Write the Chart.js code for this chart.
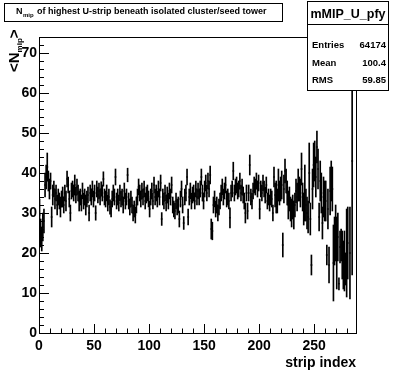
<!DOCTYPE html>
<html>
<head>
<meta charset="utf-8">
<script src="https://cdn.jsdelivr.net/npm/chart.js@4.4.0/dist/chart.umd.min.js"></script>
<style>
body { margin: 0; background: #fff; }
canvas { display: block; }
</style>
</head>
<body>
<canvas id="chart" width="396" height="372"></canvas>
<script>
// profile: mean N_mip per strip bin (0..287)
const means = [
  29.5, 25, 23.5, 26.5, 28, 37, 39, 41.5, 38, 36,
  38, 29, 34.5, 36, 33.5, 35, 32, 34, 33, 31.5,
  33.5, 34, 32, 35, 33, 38.5, 37, 33.5, 30, 35.5,
  36, 35, 37, 34.5, 36.5, 35, 33, 34, 32.5, 35.5,
  33, 34, 32, 33.5, 34.5, 30, 35, 34, 36, 33.5,
  35, 30, 36, 34.5, 35.5, 34, 36, 35, 38.5, 34,
  33.5, 35, 32.5, 34, 31.5, 31, 33.5, 35, 34, 39,
  33, 34, 32.5, 35, 33.5, 34, 32, 35.5, 33, 34,
  39.5, 33, 31.5, 33.5, 32, 30, 31, 29.5, 32, 34,
  36.5, 35, 33.5, 35.5, 34, 36, 33, 34.5, 35, 33.5,
  31, 34, 35.5, 33, 37, 34, 35, 33.5, 36, 34,
  37.5, 28.5, 34, 33, 35, 32.5, 34.5, 33, 35.5, 34,
  37, 32, 31, 30.5, 33, 31.5, 32, 28.5, 33.5, 36,
  32, 27.5, 34, 35, 39, 29, 34, 35.5, 33, 34.5,
  35, 33, 36, 34, 35.5, 34, 36, 39, 35, 33,
  36, 37.5, 35, 38, 36, 39.5, 26, 25.5, 32, 33.5,
  31, 32, 30, 31.5, 33, 35, 36.5, 34, 35.5, 37,
  33.5, 34, 33, 28.8, 35, 36, 40.5, 35, 36.5, 37,
  35.5, 36, 38, 35, 36.5, 34.5, 33, 30, 35, 30.5,
  35, 42, 34, 33, 35.5, 37, 36.5, 38, 36, 37.5,
  31, 36, 35, 37.5, 36, 34.5, 37, 33, 34, 32.5,
  34, 33.5, 30, 39, 34.5, 34, 33, 37, 35, 36,
  37, 22, 36, 40.5, 38, 35, 32, 33.5, 31, 30,
  31.5, 29.5, 32, 35.5, 34, 37, 36, 35, 41, 34,
  31, 35, 32, 30, 29, 40, 28.5, 17, 36, 42,
  43, 39, 46.5, 41, 29, 38, 35, 27.5, 34, 33,
  33, 19.5, 31, 17, 35.5, 38, 36, 17.5, 23, 25,
  20, 24, 12.3, 21.5, 22, 19.5, 17, 18, 16, 20,
  22.5, null, 20, null, 43, null, null, null
];

const errors = [
  4, 3.5, 3, 3.5, 3, 3, 3, 3.5, 2.5, 2.5,
  2, 2.5, 2.5, 2, 2.5, 2, 2.5, 2, 2, 2.5,
  2, 2.5, 2, 2, 2.5, 2, 2, 2, 2, 2,
  2, 2, 2.5, 2, 2, 2, 2.5, 2, 2, 2,
  2, 2, 2.5, 2, 2, 2, 2, 2, 2, 2,
  2, 1.8, 2, 2, 2, 2, 1.8, 2, 1.8, 2,
  2, 2, 2, 2, 1.8, 2, 2, 2, 2, 2,
  2, 2, 2, 2, 2, 2, 2, 2, 2, 2,
  1.7, 2, 2, 2, 2, 2, 2, 2, 2, 2,
  2, 2, 2, 2, 2, 2, 2, 2, 2, 2,
  2, 2, 2, 2, 2, 2, 2, 2, 2, 2,
  2, 1.6, 2, 2, 2, 2, 2, 2, 2, 2,
  2, 2, 2, 2, 2, 2, 2, 2, 2, 2,
  2, 1.6, 2, 2, 2, 2, 2, 2, 2, 2,
  2, 2, 2, 2, 2, 2, 2, 2, 2, 2,
  2, 2, 2, 2, 2, 2.2, 2.5, 2.2, 2, 2,
  2, 2, 2, 2, 2, 2, 2, 2, 2, 2,
  2, 2, 2, 2.5, 2, 2, 2.2, 2, 2, 2,
  2, 2, 2, 2, 2, 2, 2, 2.5, 2, 2,
  2, 2.5, 2, 2, 2, 2, 2, 2, 2, 2,
  2.5, 2, 2, 2, 2, 2, 2, 2, 2, 2,
  2, 2, 2, 2.5, 3, 4, 3, 4, 3, 3,
  3.5, 3, 3.5, 3, 3, 3, 3.5, 3, 3, 3.5,
  3, 3.5, 3, 3, 3.5, 4, 3, 3.5, 4, 3.5,
  4, 7, 4, 4, 4, 7.5, 4, 2.5, 5, 5.5,
  5, 5, 4, 5, 3.5, 5, 5, 4, 5, 5,
  5, 2.5, 5, 4.5, 6, 5, 5.5, 9.5, 6, 7,
  9, 6, 1.5, 4, 4, 6, 6, 7.5, 4, 11,
  9, null, 11.5, null, 28.5, null, null, null
];

const xTicks = [0, 50, 100, 150, 200, 250];
const yTicks = [0, 10, 20, 30, 40, 50, 60, 70];
const statsName = "mMIP_U_pfy";
const statsLabels = ["Entries", "Mean", "RMS"];
const statsValues = ["64174", "100.4", "59.85"];

const barData = [];
const markData = [];
for (let i = 0; i < means.length; i++) {
  if (means[i] === null) continue;
  barData.push({ x: i + 0.5, y: [means[i] - errors[i], means[i] + errors[i]] });
  markData.push({ x: i + 0.5, y: means[i] });
}

const bold = (s) => ({ family: "'Liberation Sans', Arial, sans-serif", size: s, weight: "bold" });

// ROOT style: frame, inward ticks, title box, stats box
const decor = {
  id: "decor",
  afterDatasetsDraw(chart) {
    const ctx = chart.ctx;
    const a = chart.chartArea;
    const xs = chart.scales.x, ys = chart.scales.y;
    ctx.save();
    ctx.strokeStyle = "#000";
    ctx.lineWidth = 1;
    ctx.beginPath();
    for (let v = 0; v <= 74; v += 2) {
      const py = Math.round(ys.getPixelForValue(v)) + 0.5;
      const len = v % 10 === 0 ? 10 : 5;
      ctx.moveTo(a.left, py);
      ctx.lineTo(a.left + len, py);
    }
    for (let v = 0; v <= 288; v += 10) {
      const px = Math.round(xs.getPixelForValue(v)) + 0.5;
      const len = v % 50 === 0 ? 9 : 4.5;
      ctx.moveTo(px, a.bottom);
      ctx.lineTo(px, a.bottom - len);
    }
    ctx.stroke();
    ctx.strokeRect(Math.round(a.left) + 0.5, Math.round(a.top) + 0.5,
      Math.round(a.right - a.left), Math.round(a.bottom - a.top));
    ctx.restore();
  },
  afterDraw(chart) {
    const ctx = chart.ctx;
    ctx.save();
    ctx.fillStyle = "#000";
    ctx.strokeStyle = "#000";
    ctx.lineWidth = 1;

    // title box
    ctx.fillStyle = "#fff";
    ctx.fillRect(4.5, 3.5, 278, 18);
    ctx.strokeRect(4.5, 3.5, 278, 18);
    ctx.fillStyle = "#000";
    ctx.textBaseline = "alphabetic";
    ctx.font = "bold 9px 'Liberation Sans', Arial, sans-serif";
    ctx.fillText("N", 16, 14);
    ctx.font = "bold 6px 'Liberation Sans', Arial, sans-serif";
    ctx.fillText("mip", 23, 17);
    ctx.font = "bold 9px 'Liberation Sans', Arial, sans-serif";
    ctx.fillText("of highest U-strip beneath isolated cluster/seed tower", 37, 14);

    // stats box
    ctx.fillStyle = "#fff";
    ctx.fillRect(307.5, 1.5, 81, 89);
    ctx.strokeRect(307.5, 1.5, 81, 89);
    ctx.beginPath();
    ctx.moveTo(307.5, 24.5);
    ctx.lineTo(388.5, 24.5);
    ctx.stroke();
    ctx.fillStyle = "#000";
    ctx.font = "bold 12.5px 'Liberation Sans', Arial, sans-serif";
    ctx.textAlign = "center";
    ctx.fillText(statsName, 348, 18);
    ctx.font = "bold 9.5px 'Liberation Sans', Arial, sans-serif";
    const rowY = [48, 65.5, 82.5];
    for (let i = 0; i < statsLabels.length; i++) {
      ctx.textAlign = "left";
      ctx.fillText(statsLabels[i], 312, rowY[i]);
      ctx.textAlign = "right";
      ctx.fillText(statsValues[i], 386, rowY[i]);
    }

    // y title <N_mip>
    ctx.translate(18.5, 72);
    ctx.rotate(-Math.PI / 2);
    ctx.textAlign = "left";
    ctx.font = "bold 15px 'Liberation Sans', Arial, sans-serif";
    let x = 0;
    ctx.fillText("<", x, 0); x += ctx.measureText("<").width;
    ctx.fillText("N", x, 0); x += ctx.measureText("N").width;
    ctx.font = "bold 8px 'Liberation Sans', Arial, sans-serif";
    ctx.fillText("mip", x, 3); x += ctx.measureText("mip").width;
    ctx.font = "bold 15px 'Liberation Sans', Arial, sans-serif";
    ctx.fillText(">", x, 0);
    ctx.restore();
  }
};

new Chart(document.getElementById("chart"), {
  type: "bar",
  data: {
    datasets: [
      {
        type: "bar",
        data: barData,
        backgroundColor: "#000",
        borderWidth: 0,
        barThickness: 1
      },
      {
        type: "scatter",
        data: markData,
        pointStyle: "line",
        pointRadius: 1,
        borderColor: "#000",
        borderWidth: 1
      }
    ]
  },
  options: {
    responsive: false,
    animation: false,
    layout: { padding: { top: 37, right: 40, left: 0, bottom: 0 } },
    plugins: { legend: { display: false }, tooltip: { enabled: false } },
    scales: {
      x: {
        type: "linear",
        min: 0,
        max: 288,
        offset: false,
        grid: { display: false, drawTicks: false },
        border: { display: false },
        afterBuildTicks(s) { s.ticks = xTicks.map(v => ({ value: v })); },
        ticks: { color: "#000", font: bold(14), padding: 5, maxRotation: 0, autoSkip: false },
        title: { display: true, text: "strip index", color: "#000", font: bold(14), align: "end", padding: { top: 4, bottom: 0 } },
        afterFit(s) { s.height = 39; }
      },
      y: {
        type: "linear",
        min: 0,
        max: 74,
        grid: { display: false, drawTicks: false },
        border: { display: false },
        afterBuildTicks(s) { s.ticks = yTicks.map(v => ({ value: v })); },
        ticks: { color: "#000", font: bold(14), padding: 2 },
        afterFit(s) { s.width = 39; }
      }
    }
  },
  plugins: [decor]
});
</script>
</body>
</html>
